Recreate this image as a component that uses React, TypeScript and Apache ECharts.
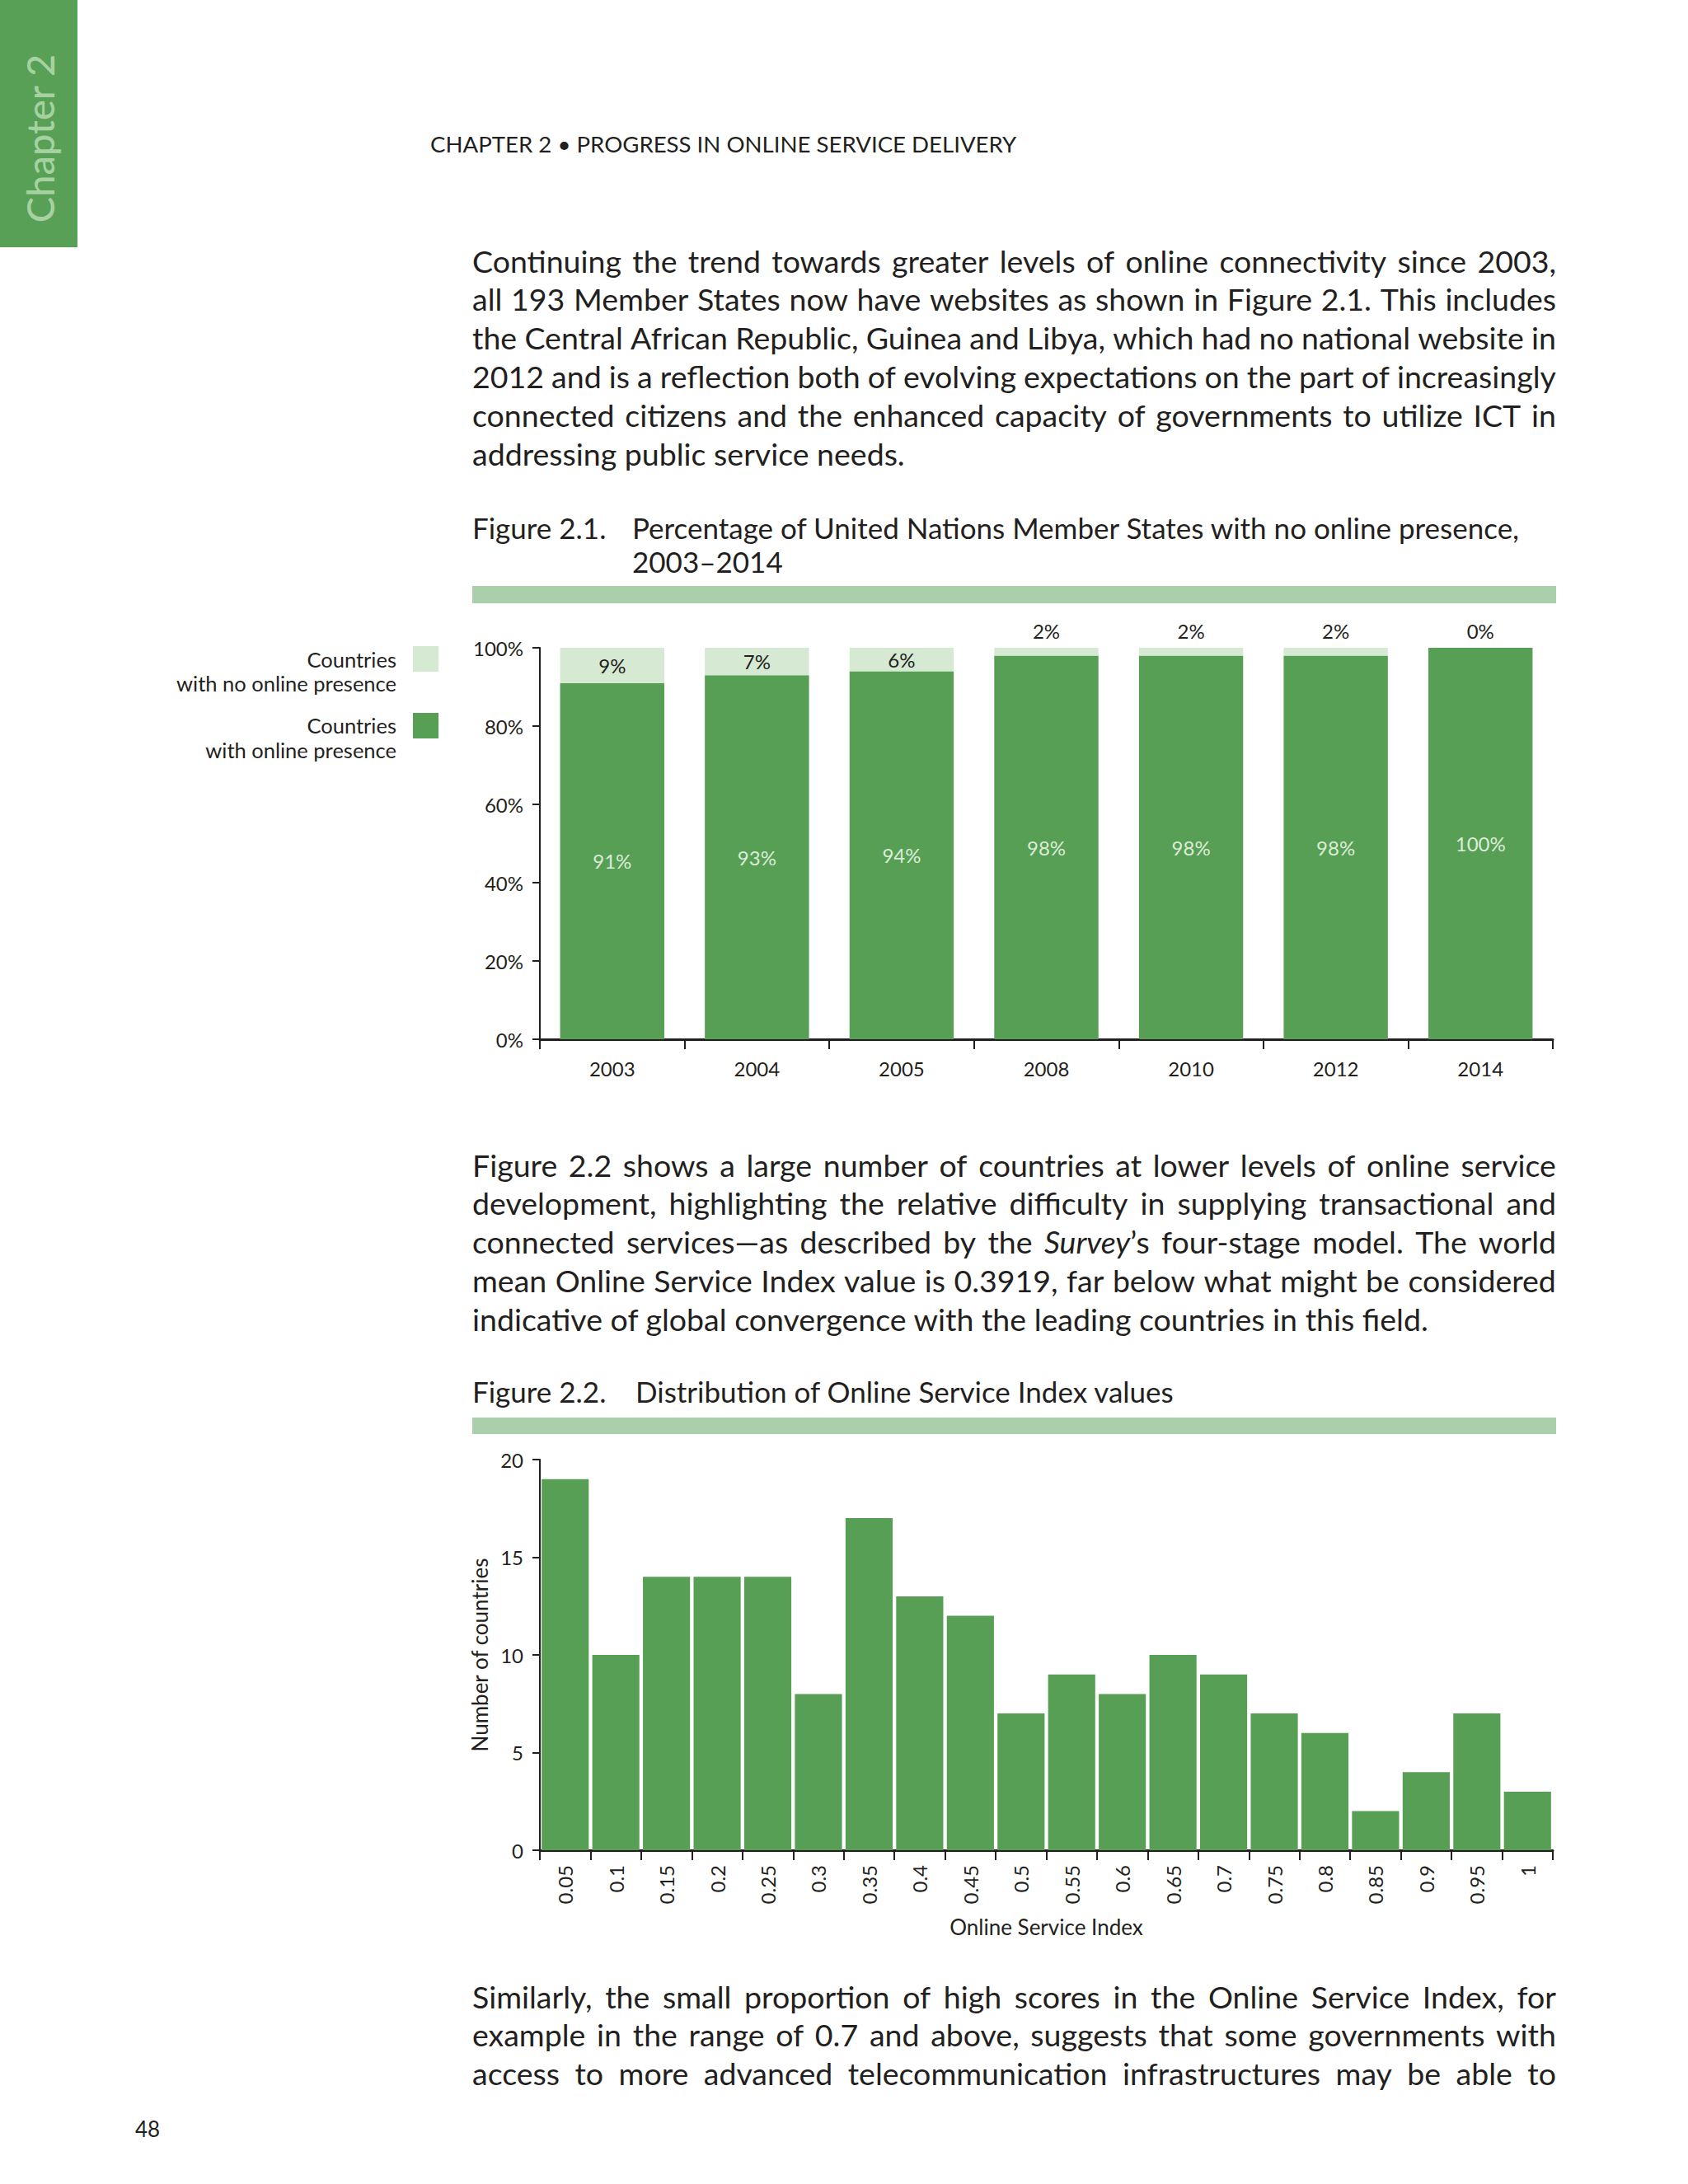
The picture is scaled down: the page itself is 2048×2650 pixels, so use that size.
import React, { useEffect, useRef } from "react";
import * as echarts from "echarts";

const FONT = "Lato, 'Open Sans', sans-serif";
const INK = "#231f20";
const GREEN = "#579f54";
const LIGHT = "#d6e9d3";
const BAND = "#abcfaa";
const TAB = "#58a055";
const TAB_TEXT = "#a6d2a1";

const chapterTab = "Chapter 2";
const headerText = "CHAPTER 2 • PROGRESS IN ONLINE SERVICE DELIVERY";
const pageNumber = "48";

const para1 = [
  "Continuing the trend towards greater levels of online connectivity since 2003,",
  "all 193 Member States now have websites as shown in Figure 2.1. This includes",
  "the Central African Republic, Guinea and Libya, which had no national website in",
  "2012 and is a reflection both of evolving expectations on the part of increasingly",
  "connected citizens and the enhanced capacity of governments to utilize ICT in",
  "addressing public service needs.",
];
const para2 = [
  "Figure 2.2 shows a large number of countries at lower levels of online service",
  "development, highlighting the relative difficulty in supplying transactional and",
  "connected services—as described by the *Survey*’s four-stage model. The world",
  "mean Online Service Index value is 0.3919, far below what might be considered",
  "indicative of global convergence with the leading countries in this field.",
];
const para3 = [
  "Similarly, the small proportion of high scores in the Online Service Index, for",
  "example in the range of 0.7 and above, suggests that some governments with",
  "access to more advanced telecommunication infrastructures may be able to",
];

const fig1Label = "Figure 2.1.";
const fig1Title = ["Percentage of United Nations Member States with no online presence,", "2003–2014"];
const fig2Label = "Figure 2.2.";
const fig2Title = "Distribution of Online Service Index values";

const years = ["2003", "2004", "2005", "2008", "2010", "2012", "2014"];
const withOnline = [91, 93, 94, 98, 98, 98, 100];
const noOnline = [9, 7, 6, 2, 2, 2, 0];
const legendNo = ["Countries", "with no online presence"];
const legendYes = ["Countries", "with online presence"];

const osiBins = ["0.05", "0.1", "0.15", "0.2", "0.25", "0.3", "0.35", "0.4", "0.45", "0.5", "0.55", "0.6", "0.65", "0.7", "0.75", "0.8", "0.85", "0.9", "0.95", "1"];
const osiCounts = [19, 10, 14, 14, 14, 8, 17, 13, 12, 7, 9, 8, 10, 9, 7, 6, 2, 4, 7, 3];

const TEXT_LEFT = 573;
const TEXT_WIDTH = 1315;
const LINE_H = 47;
const BODY_SIZE = 37.5;

function renderRich(s: string, keyBase: string) {
  const parts = s.split("*");
  return parts.map((p, i) =>
    i % 2 === 1 ? <i key={keyBase + i}>{p}</i> : <React.Fragment key={keyBase + i}>{p}</React.Fragment>
  );
}

function Line({ text, centerY, justify }: { text: string; centerY: number; justify: boolean }) {
  const style: React.CSSProperties = {
    position: "absolute",
    left: TEXT_LEFT,
    top: centerY - LINE_H / 2,
    width: TEXT_WIDTH,
    height: LINE_H,
    lineHeight: LINE_H + "px",
    fontSize: BODY_SIZE,
    fontFamily: FONT,
    color: INK,
    whiteSpace: "nowrap",
    display: "flex",
    justifyContent: justify ? "space-between" : "flex-start",
  };
  if (!justify) {
    return <div style={style}><span>{renderRich(text, "w")}</span></div>;
  }
  const words = text.split(" ");
  return (
    <div style={style}>
      {words.map((w, i) => (
        <span key={i} style={{ flexShrink: 0 }}>{renderRich(w, "w" + i + "_")}</span>
      ))}
    </div>
  );
}

function Paragraph({ lines, firstY, justifyLast }: { lines: string[]; firstY: number; justifyLast: boolean }) {
  return (
    <>
      {lines.map((l, i) => (
        <Line key={i} text={l} centerY={firstY + i * 46.8} justify={i < lines.length - 1 || justifyLast} />
      ))}
    </>
  );
}

export default function App() {
  const ref = useRef<HTMLDivElement>(null);

  useEffect(() => {
    document.body.style.margin = "0";
    if (!ref.current) return;
    const chart = echarts.init(ref.current, null, { renderer: "svg" });

    const txt = (text: string, x: number, y: number, size: number, extra: any = {}) => ({
      type: "text",
      x,
      y,
      silent: true,
      style: {
        text,
        fill: INK,
        fontSize: size,
        fontFamily: FONT,
        align: "left",
        textAlign: "left",
        verticalAlign: "middle",
        textVerticalAlign: "middle",
        ...extra,
      },
    });

    const axisCommon = {
      axisLine: { show: true, lineStyle: { color: INK, width: 2 } },
      axisTick: { show: true, length: 9, lineStyle: { color: INK, width: 2 } },
      splitLine: { show: false },
    };

    const option: any = {
      animation: false,
      textStyle: { fontFamily: FONT, color: INK },
      grid: [
        { left: 655, top: 786, width: 1229, height: 475, containLabel: false, outerBoundsMode: "none" },
        { left: 655, top: 1771, width: 1229, height: 474, containLabel: false, outerBoundsMode: "none" },
      ],
      xAxis: [
        {
          type: "category",
          gridIndex: 0,
          data: years,
          ...axisCommon,
          axisLine: { show: true, lineStyle: { color: INK, width: 3 } },
          axisTick: { show: true, length: 12, lineStyle: { color: INK, width: 2 } },
          axisLabel: { fontSize: 24, color: INK, margin: 23, fontFamily: FONT },
        },
        {
          type: "category",
          gridIndex: 1,
          data: osiBins,
          ...axisCommon,
          axisLine: { show: true, lineStyle: { color: INK, width: 3 } },
          axisTick: { show: true, length: 12, lineStyle: { color: INK, width: 2 } },
          axisLabel: { fontSize: 24, color: INK, margin: 18, rotate: 90, interval: 0, fontFamily: FONT },
          name: "Online Service Index",
          nameLocation: "middle",
          nameGap: 80,
          nameTextStyle: { fontSize: 26, color: INK, fontFamily: FONT },
        },
      ],
      yAxis: [
        {
          type: "value",
          gridIndex: 0,
          min: 0,
          max: 100,
          interval: 20,
          ...axisCommon,
          axisLabel: { fontSize: 24, color: INK, margin: 20, formatter: "{value}%", fontFamily: FONT },
        },
        {
          type: "value",
          gridIndex: 1,
          min: 0,
          max: 20,
          interval: 5,
          ...axisCommon,
          axisLabel: { fontSize: 24, color: INK, margin: 20, fontFamily: FONT },
          name: "Number of countries",
          nameLocation: "middle",
          nameGap: 60,
          nameTextStyle: { fontSize: 26, color: INK, fontFamily: FONT },
        },
      ],
      series: [
        {
          type: "bar",
          name: legendYes.join(" "),
          xAxisIndex: 0,
          yAxisIndex: 0,
          stack: "presence",
          barWidth: "72%",
          data: withOnline,
          itemStyle: { color: GREEN },
          label: { show: true, position: "inside", formatter: "{c}%", color: "#dcecd8", fontSize: 24, fontFamily: FONT },
        },
        {
          type: "bar",
          name: legendNo.join(" "),
          xAxisIndex: 0,
          yAxisIndex: 0,
          stack: "presence",
          barWidth: "72%",
          data: noOnline.map((v) => ({
            value: v,
            label: v < 4 ? { position: "top", distance: 9 } : { position: "inside" },
          })),
          itemStyle: { color: LIGHT },
          label: { show: true, formatter: "{c}%", color: INK, fontSize: 24, fontFamily: FONT },
        },
        {
          type: "bar",
          name: "Number of countries",
          xAxisIndex: 1,
          yAxisIndex: 1,
          barCategoryGap: "7%",
          data: osiCounts,
          itemStyle: { color: GREEN },
        },
      ],
      graphic: {
        elements: [
          { type: "rect", silent: true, shape: { x: 0, y: 0, width: 94, height: 300 }, style: { fill: TAB } },
          {
            type: "text",
            x: 48,
            y: 168,
            rotation: Math.PI / 2,
            silent: true,
            style: {
              text: chapterTab,
              fill: TAB_TEXT,
              fontSize: 47,
              fontWeight: 500,
              fontFamily: FONT,
              align: "center",
              textAlign: "center",
              verticalAlign: "middle",
              textVerticalAlign: "middle",
            },
          },
          txt(headerText, 522, 174, 27.6),
          txt(fig1Label, TEXT_LEFT, 640, 35),
          txt(fig1Title[0], 767, 640, 35),
          txt(fig1Title[1], 767, 681, 35),
          { type: "rect", silent: true, shape: { x: TEXT_LEFT, y: 711, width: TEXT_WIDTH, height: 21 }, style: { fill: BAND } },
          txt(legendNo[0], 481, 800, 25.5, { align: "right", textAlign: "right" }),
          txt(legendNo[1], 481, 829, 25.5, { align: "right", textAlign: "right" }),
          { type: "rect", silent: true, shape: { x: 501, y: 784, width: 31, height: 31 }, style: { fill: LIGHT } },
          txt(legendYes[0], 481, 880, 25.5, { align: "right", textAlign: "right" }),
          txt(legendYes[1], 481, 910, 25.5, { align: "right", textAlign: "right" }),
          { type: "rect", silent: true, shape: { x: 501, y: 865, width: 31, height: 31 }, style: { fill: GREEN } },
          txt(fig2Label, TEXT_LEFT, 1688, 35),
          txt(fig2Title, 771, 1688, 35),
          { type: "rect", silent: true, shape: { x: TEXT_LEFT, y: 1720, width: TEXT_WIDTH, height: 20 }, style: { fill: BAND } },
          txt(pageNumber, 164, 2583, 26),
        ],
      },
    };

    chart.setOption(option);
    return () => chart.dispose();
  }, []);

  return (
    <div style={{ position: "relative", width: 2048, height: 2650, background: "#fff", overflow: "hidden" }}>
      <div ref={ref} style={{ position: "absolute", left: 0, top: 0, width: 2048, height: 2650 }} />
      <Paragraph lines={para1} firstY={316} justifyLast={false} />
      <Paragraph lines={para2} firstY={1413} justifyLast={false} />
      <Paragraph lines={para3} firstY={2422} justifyLast={true} />
    </div>
  );
}
